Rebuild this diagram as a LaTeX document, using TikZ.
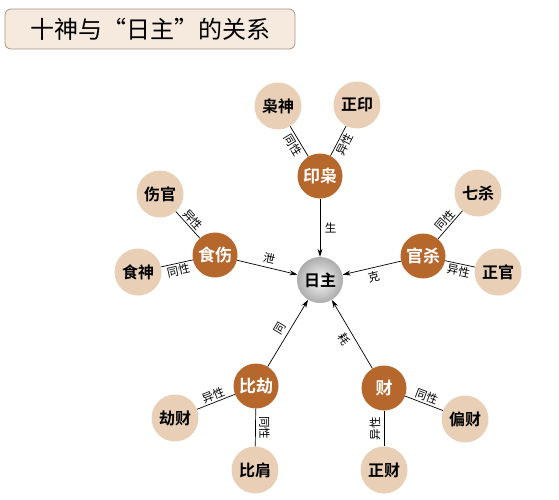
\documentclass[tikz,border=0pt]{standalone}
\usepackage{fontspec}
\setmainfont{Noto Sans CJK SC}
\newfontfamily\cjkbold{Noto Sans CJK SC Bold}
\usetikzlibrary{arrows.meta}
\definecolor{shenbrown}{HTML}{B5672C}
\definecolor{shenbeige}{HTML}{E8CFB6}
\definecolor{titlefill}{HTML}{F6E9DE}
\definecolor{titleline}{HTML}{A89684}
\tikzset{
  gan/.style={circle, fill=shenbrown, text=white, minimum size=45pt, inner sep=0pt, font=\cjkbold\fontsize{17}{17}\selectfont},
  shen/.style={circle, fill=shenbeige, text=black, minimum size=47pt, inner sep=0pt, font=\cjkbold\fontsize{16}{16}\selectfont},
  tag/.style={font=\fontsize{11.5}{11.5}\selectfont, inner sep=1.5pt},
  feed/.style={-{Stealth[length=8pt, width=5pt]}, line width=0.7pt},
  link/.style={line width=0.7pt}
}
\begin{document}
\begin{tikzpicture}[x=1pt, y=-1pt]
    \useasboundingbox (0,0) rectangle (559,500);

    % Title
    \node[draw=titleline, fill=titlefill, rounded corners=6pt, line width=0.8pt, minimum width=290pt, minimum height=40pt, font=\fontsize{24}{24}\selectfont] (title) at (150,29) {十神与“日主”的关系};

    % Day master
    \node[circle, shading=radial, inner color=gray!5, outer color=gray!65, minimum size=46pt, inner sep=0pt, font=\cjkbold\fontsize{16}{16}\selectfont] (rizhu) at (320,280) {日主};

    % Resource
    \node[gan] (yinxiao) at (320,176) {印枭};
    \node[shen] (xiaoshen) at (278,106) {枭神};
    \node[shen] (zhengyin) at (357,105) {正印};

    % Output
    \node[gan] (shishang) at (215,255) {食伤};
    \node[shen] (shangguan) at (160,194) {伤官};
    \node[shen] (shishen) at (138,272) {食神};

    % Officer
    \node[gan] (guansha) at (423,256) {官杀};
    \node[shen] (qisha) at (478,193) {七杀};
    \node[shen] (zhengguan) at (498,272) {正官};

    % Companion
    \node[gan] (bijie) at (256,386) {比劫};
    \node[shen] (jiecai) at (175,418) {劫财};
    \node[shen] (bijian) at (255,470) {比肩};

    % Wealth
    \node[gan] (cai) at (384,388) {财};
    \node[shen] (piancai) at (465,419) {偏财};
    \node[shen] (zhengcai) at (384,470) {正财};

    % Arrows to the day master
    \draw[feed] (yinxiao) -- (rizhu) node[tag, midway, right=3pt] {生};
    \draw[feed] (shishang) -- (rizhu) node[tag, midway, sloped, above=2pt] {泄};
    \draw[feed] (guansha) -- (rizhu) node[tag, midway, sloped, below=2pt] {克};
    \draw[feed] (bijie) -- (rizhu) node[tag, midway, sloped, above=2pt] {同};
    \draw[feed] (cai) -- (rizhu) node[tag, midway, sloped, below=2pt] {耗};

    % Links
    \draw[link] (xiaoshen) -- (yinxiao) node[tag, midway, sloped, below] {同性};
    \draw[link] (yinxiao) -- (zhengyin) node[tag, midway, sloped, below] {异性};
    \draw[link] (shangguan) -- (shishang) node[tag, midway, sloped, above] {异性};
    \draw[link] (shishen) -- (shishang) node[tag, midway, sloped, below] {同性};
    \draw[link] (guansha) -- (qisha) node[tag, midway, sloped, above] {同性};
    \draw[link] (guansha) -- (zhengguan) node[tag, midway, sloped, below] {异性};
    \draw[link] (jiecai) -- (bijie) node[tag, midway, sloped, above] {异性};
    \draw[link] (bijie) -- (bijian) node[tag, midway, xshift=9pt, rotate=-90] {同性};
    \draw[link] (cai) -- (piancai) node[tag, midway, sloped, above] {同性};
    \draw[link] (cai) -- (zhengcai) node[tag, midway, xshift=-9pt, rotate=90] {异性};
\end{tikzpicture}
\end{document}
